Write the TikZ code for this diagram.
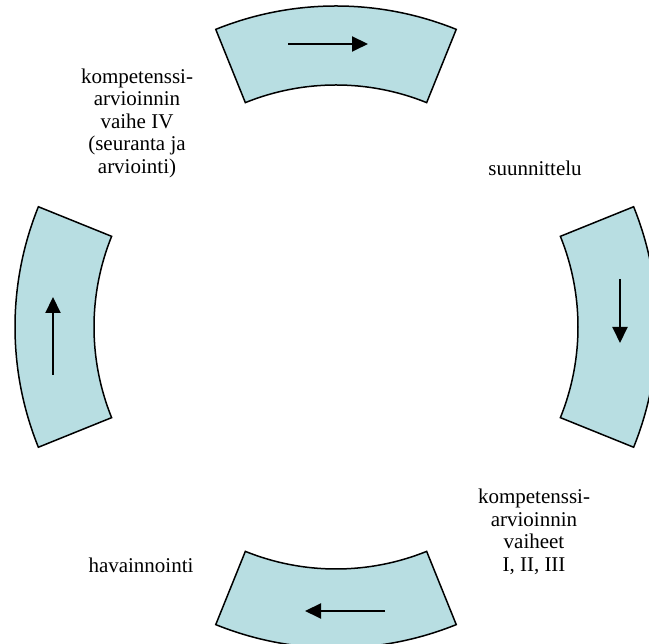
\documentclass[tikz,border=0pt]{standalone}
\usepackage{fontspec}
\setmainfont{Liberation Serif}
\usetikzlibrary{arrows.meta}
\definecolor{sectorfill}{RGB}{184,222,226}
\begin{document}
\begin{tikzpicture}[x=1pt,y=1pt,
  sector/.style={draw=black,fill=sectorfill,line width=1.5pt,line join=miter},
  flow/.style={line width=2pt,-{Triangle[length=16pt,width=15pt]}},
  lbl/.style={align=center,font=\fontsize{21}{22.5}\selectfont,inner sep=0pt}]
\useasboundingbox (0,0) rectangle (649,644);
\coordinate (c) at (336,317);
\begin{scope}[shift={(c)}]
  \draw[sector] (68:321pt) arc[start angle=68,end angle=112,radius=321pt] -- (112:242pt) arc[start angle=112,end angle=68,radius=242pt] -- cycle;
  \draw[sector] (158:321pt) arc[start angle=158,end angle=202,radius=321pt] -- (202:242pt) arc[start angle=202,end angle=158,radius=242pt] -- cycle;
  \draw[sector] (248:321pt) arc[start angle=248,end angle=292,radius=321pt] -- (292:242pt) arc[start angle=292,end angle=248,radius=242pt] -- cycle;
  \draw[sector] (-22:321pt) arc[start angle=-22,end angle=22,radius=321pt] -- (22:242pt) arc[start angle=22,end angle=-22,radius=242pt] -- cycle;
\end{scope}
\coordinate (t1) at (288,600); \coordinate (t2) at (368,600);
\coordinate (r1) at (620,365); \coordinate (r2) at (620,301);
\coordinate (b1) at (385,33);  \coordinate (b2) at (305,33);
\coordinate (l1) at (53,269);  \coordinate (l2) at (53,347);
\draw[flow] (t1) -- (t2);
\draw[flow] (r1) -- (r2);
\draw[flow] (b1) -- (b2);
\draw[flow] (l1) -- (l2);
\node[lbl] (vaiheIV) at (137,521) {kompetenssi-\\arvioinnin\\vaihe IV\\(seuranta ja\\arviointi)};
\node[lbl] (suunn) at (535,476) {suunnittelu};
\node[lbl] (vaiheet) at (534,112) {kompetenssi-\\arvioinnin\\vaiheet\\I, II, III};
\node[lbl] (havain) at (141,79) {havainnointi};
\end{tikzpicture}
\end{document}
